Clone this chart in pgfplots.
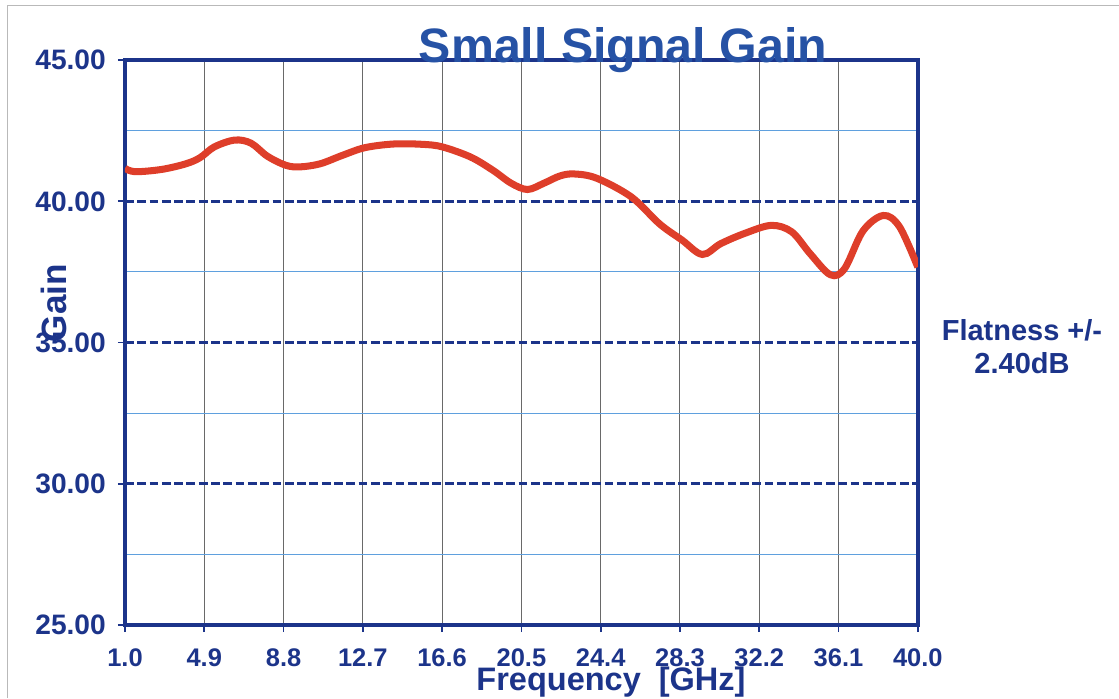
\documentclass[border=0pt]{standalone}
\usepackage{pgfplots}
\pgfplotsset{compat=1.18}
\usepackage{fontspec}
\setmainfont{Liberation Sans}
\definecolor{navy}{RGB}{28,52,138}
\definecolor{titleblue}{RGB}{38,82,165}
\definecolor{curvered}{RGB}{222,62,42}
\definecolor{minorblue}{RGB}{95,160,222}
\definecolor{vgray}{RGB}{105,105,105}
\begin{document}
\begin{tikzpicture}[x=0.02cm,y=0.02cm]
\path[use as bounding box] (0,0) rectangle (1119,698);
\draw[gray!55, line width=0.5pt] (7,0) -- (7,693) -- (1119,693);
\begin{axis}[
  at={(2.5cm,1.46cm)}, anchor=south west,
  scale only axis, width=15.86cm, height=11.3cm,
  xmin=1, xmax=40, ymin=25, ymax=45,
  xtick={1.0,4.9,8.8,12.7,16.6,20.5,24.4,28.3,32.2,36.1,40.0},
  xticklabels={1.0,4.9,8.8,12.7,16.6,20.5,24.4,28.3,32.2,36.1,40.0},
  ytick={25,30,35,40,45},
  yticklabels={25.00,30.00,35.00,40.00,45.00},
  minor ytick={27.5,32.5,37.5,42.5},
  xmajorgrids, ymajorgrids, yminorgrids,
  major x grid style={vgray, line width=0.6pt},
  major y grid style={navy, line width=1.5pt, dash pattern=on 5pt off 2pt},
  minor y grid style={minorblue, line width=0.6pt},
  axis line style={navy, line width=2pt},
  tick align=outside, xtick pos=bottom, ytick pos=left,
  major tick length=0.14cm, minor tick length=0pt,
  tick style={navy, line width=1pt},
  xticklabel style={font=\bfseries\fontsize{14.5}{14.5}\selectfont, text=navy, yshift=-0.2cm},
  yticklabel style={font=\bfseries\fontsize{16}{16}\selectfont, text=navy, xshift=-0.12cm},
  /pgf/number format/assume math mode=true,
]
\addplot[curvered, line width=4pt, smooth, tension=0.55] coordinates {
(1.0,41.17) (1.5,41.05) (2.8,41.13) (4.0,41.33) (4.7,41.55) (5.4,41.93)
(6.4,42.17) (7.2,42.06) (8.0,41.6) (8.9,41.28) (9.6,41.22) (10.6,41.33)
(11.7,41.63) (12.8,41.9) (14.2,42.03) (15.6,42.02) (16.6,41.93) (18.0,41.57)
(19.1,41.1) (20.0,40.64) (20.8,40.42) (21.6,40.64) (22.4,40.9) (23.1,40.97)
(24.2,40.82) (25.9,40.16) (27.3,39.2) (28.4,38.63) (29.4,38.12) (30.3,38.5)
(31.5,38.87) (32.8,39.15) (33.8,38.92) (34.7,38.15) (35.7,37.4) (36.4,37.62)
(37.3,38.95) (38.3,39.5) (39.1,39.1) (40.0,37.67)
};
\end{axis}
\node[anchor=base, font=\bfseries\fontsize{27.5}{27.5}\selectfont, text=titleblue] at (623,636) {Small Signal Gain};
\node[anchor=base, rotate=90, font=\bfseries\fontsize{20}{20}\selectfont, text=navy] at (66,395) {Gain};
\node[anchor=base, font=\bfseries\fontsize{18.5}{18.5}\selectfont, text=navy] at (611,8) {Frequency\ \ [GHz]};
\node[anchor=base, font=\bfseries\fontsize{16.5}{16.5}\selectfont, text=navy] at (1022,358) {Flatness +/-};
\node[anchor=base, font=\bfseries\fontsize{16.5}{16.5}\selectfont, text=navy] at (1022,325) {2.40dB};
\end{tikzpicture}
\end{document}
